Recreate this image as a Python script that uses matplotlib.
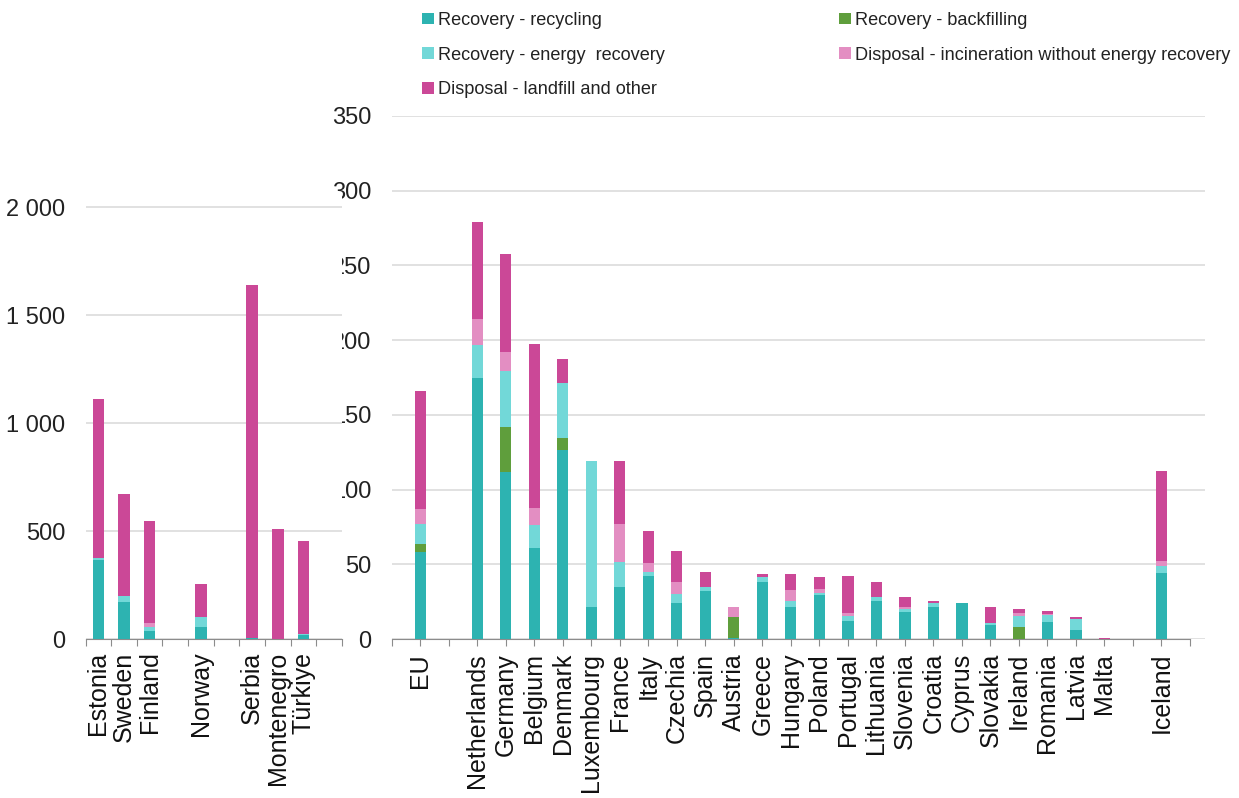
import matplotlib
matplotlib.use('Agg')
import matplotlib.pyplot as plt
from matplotlib.patches import Patch
from matplotlib.ticker import FuncFormatter
import numpy as np

plt.rcParams['font.family'] = ['Liberation Sans', 'DejaVu Sans']

# colours of the five treatment types
c_rec = '#2db3b1'
c_back = '#5f9e3c'
c_energy = '#72d8d8'
c_incin = '#e38ec2'
c_land = '#cb4897'

series_names = ['Recovery - recycling', 'Recovery - backfilling',
                'Recovery - energy  recovery',
                'Disposal - incineration without energy recovery',
                'Disposal - landfill and other']
series_colors = [c_rec, c_back, c_energy, c_incin, c_land]

# left panel (non-EU countries with big totals), '' = empty slot
left_cats = ['Estonia', 'Sweden', 'Finland', '', 'Norway', '', 'Serbia', 'Montenegro', 'Türkiye', '']
left_rec = [365, 173, 35, 0, 54, 0, 3, 2, 20, 0]
left_back = [0, 0, 0, 0, 0, 0, 0, 0, 0, 0]
left_energy = [8, 26, 22, 0, 49, 0, 0, 0, 4, 0]
left_incin = [0, 0, 16, 0, 0, 0, 0, 0, 0, 0]
left_land = [737, 472, 475, 0, 150, 0, 1636, 507, 431, 0]

# right panel
right_cats = ['', 'EU', '', 'Netherlands', 'Germany', 'Belgium', 'Denmark', 'Luxembourg',
              'France', 'Italy', 'Czechia', 'Spain', 'Austria', 'Greece', 'Hungary',
              'Poland', 'Portugal', 'Lithuania', 'Slovenia', 'Croatia', 'Cyprus',
              'Slovakia', 'Ireland', 'Romania', 'Latvia', 'Malta', '', 'Iceland', '']
right_rec = [0, 58.4, 0, 174.5, 112, 60.7, 126.5, 21.2, 35, 42.2, 23.9, 32.3, 0.5, 38.4, 21.2,
             29.5, 12.3, 25.6, 18.3, 21.6, 24.3, 9.4, 0, 11.6, 6, 0, 0, 44, 0]
right_back = [0, 5.2, 0, 0, 30, 0, 7.8, 0, 0, 0, 0, 0, 14, 0, 0,
              0, 0, 0, 0, 0, 0, 0, 8.2, 0, 0, 0, 0, 0, 0]
right_energy = [0, 13.4, 0, 22.3, 37.5, 15.6, 37.3, 97.9, 16.7, 2.8, 6, 2.7, 0, 2.9, 4.2,
                1.5, 3.1, 2.3, 1.6, 2.3, 0, 1.5, 7.2, 4.5, 7.4, 0, 0, 5.1, 0]
right_incin = [0, 10, 0, 17.2, 12.7, 11.2, 0, 0, 25.1, 5.7, 8.5, 0, 7, 0, 7.4,
               2.3, 2.2, 0, 1.7, 0, 0, 0, 1.8, 0.5, 0, 0, 0, 3.1, 0]
right_land = [0, 79, 0, 65.3, 65.4, 109.7, 15.6, 0, 42.3, 21.6, 20.7, 10, 0, 2.2, 10.7,
              8, 24.6, 10.5, 6.7, 1.5, 0, 10.3, 2.9, 2.2, 1.5, 0.6, 0, 60.2, 0]

W, H = 1239, 798
fig = plt.figure(figsize=(W / 100, H / 100), dpi=100)

grid_col = '#dcdcdc'
axis_col = '#8c8c8c'
ytick_fs = 17
xtick_fs = 18


def stack(ax, x, layers, width):
    bottom = np.zeros(len(x))
    for vals, col in zip(layers, series_colors):
        vals = np.array(vals, dtype=float)
        ax.bar(x, vals, width, bottom=bottom, color=col, zorder=3, linewidth=0)
        bottom += vals


def style(ax):
    for s in ['top', 'right', 'left']:
        ax.spines[s].set_visible(False)
    ax.spines['bottom'].set_color(axis_col)
    ax.yaxis.grid(True, color=grid_col, lw=1.2, zorder=0)
    ax.set_axisbelow(True)
    ax.tick_params(axis='y', length=0, labelsize=ytick_fs, labelcolor='#222222', pad=14.5)
    ax.tick_params(axis='x', which='major', color=axis_col, length=5, direction='out')


# right panel first, so the left one sits on top of its tick labels
axr = fig.add_axes([391.7 / W, 1 - 639 / H, (1205 - 391.7) / W, (639 - 116) / H])
xr = np.arange(len(right_cats))
stack(axr, xr, [right_rec, right_back, right_energy, right_incin, right_land], 0.4)
axr.set_xlim(0, 28.53)
axr.set_ylim(0, 350)
axr.set_yticks(np.arange(0, 351, 50))
style(axr)
axr.spines['bottom'].set_bounds(0, 28)
axr.set_xticks(xr)
axr.set_xticklabels(right_cats, rotation=90, fontsize=xtick_fs, color='#111111')
axr.tick_params(axis='x', pad=5)

axl = fig.add_axes([85.5 / W, 1 - 639 / H, (342 - 85.5) / W, (639 - 194) / H])
axl.set_facecolor('white')
xl = np.arange(len(left_cats))
stack(axl, xl, [left_rec, left_back, left_energy, left_incin, left_land], 0.45)
axl.set_xlim(-0.5, 9.5)
axl.set_ylim(0, 2000 * (639 - 194) / (639 - 207))
axl.set_yticks(np.arange(0, 2001, 500))
axl.yaxis.set_major_formatter(FuncFormatter(lambda v, p: f'{v:,.0f}'.replace(',', ' ')))
style(axl)
axl.set_xticks(np.arange(-0.5, 9.6, 1))
axl.set_xticklabels([])
axl.set_xticks(xl, minor=True)
axl.set_xticklabels(left_cats, minor=True, rotation=90, fontsize=xtick_fs, color='#111111')
axl.tick_params(axis='x', which='minor', length=0, pad=9)

handles = [Patch(facecolor=c, edgecolor='none') for c in series_colors]
order = [0, 2, 4, 1, 3]
fig.legend([handles[i] for i in order], [series_names[i] for i in order],
           loc='upper left', bbox_to_anchor=(422 / W, 1 - 12 / H), ncol=2, frameon=False,
           prop={'family': 'Liberation Sans', 'size': 13.1}, borderpad=0, borderaxespad=0,
           handlelength=0.67, handleheight=0.6, handletextpad=0.2,
           labelspacing=0.97, columnspacing=9.57, labelcolor='#222222')

fig.savefig('out.png', dpi=100)
